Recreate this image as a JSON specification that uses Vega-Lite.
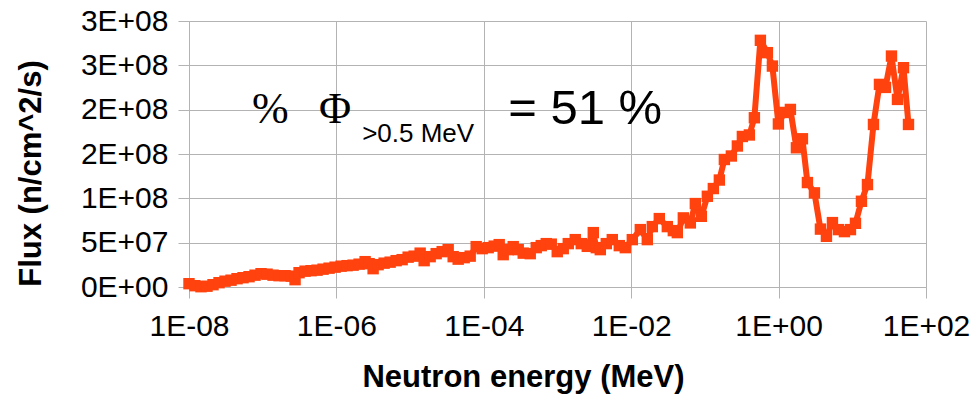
{
  "$schema": "https://vega.github.io/schema/vega-lite/v6.json",
  "width": 737,
  "height": 266,
  "autosize": {"type": "none"},
  "padding": {"left": 189, "top": 21, "right": 52, "bottom": 108},
  "background": "white",
  "config": {
    "view": {"stroke": null},
    "axis": {
      "gridColor": "#b3b3b3",
      "gridWidth": 1,
      "domainColor": "#b3b3b3",
      "tickColor": "#b3b3b3",
      "tickSize": 11,
      "labelFont": "Liberation Sans",
      "labelFontSize": 30,
      "labelColor": "#000000",
      "titleFont": "Liberation Sans",
      "titleFontSize": 31,
      "titleFontWeight": "bold",
      "titleColor": "#000000",
      "labelOverlap": false,
      "labelFlush": false
    }
  },
  "layer": [
    {
      "data": {
        "values": [
          {"E": 1.0e-8, "F": 3.73e6}, {"E": 1.206e-8, "F": 1.47e6}, {"E": 1.455e-8, "F": 3.4e5}, {"E": 1.755e-8, "F": 9.0e5},
          {"E": 2.118e-8, "F": 2.6e6}, {"E": 2.555e-8, "F": 4.86e6}, {"E": 3.083e-8, "F": 6.55e6}, {"E": 3.719e-8, "F": 7.68e6},
          {"E": 4.486e-8, "F": 9.37e6}, {"E": 5.412e-8, "F": 1.05e7}, {"E": 6.53e-8, "F": 1.163e7}, {"E": 7.874e-8, "F": 1.333e7},
          {"E": 9.497e-8, "F": 1.502e7}, {"E": 1.146e-7, "F": 1.446e7}, {"E": 1.382e-7, "F": 1.333e7}, {"E": 1.667e-7, "F": 1.276e7},
          {"E": 2.011e-7, "F": 1.276e7}, {"E": 2.426e-7, "F": 1.22e7}, {"E": 2.749e-7, "F": 8.25e6}, {"E": 3.115e-7, "F": 1.615e7},
          {"E": 3.758e-7, "F": 1.785e7}, {"E": 4.534e-7, "F": 1.841e7}, {"E": 5.47e-7, "F": 1.898e7}, {"E": 6.597e-7, "F": 2.01e7},
          {"E": 7.958e-7, "F": 2.123e7}, {"E": 9.603e-7, "F": 2.236e7}, {"E": 1.158e-6, "F": 2.349e7}, {"E": 1.397e-6, "F": 2.406e7},
          {"E": 1.686e-6, "F": 2.462e7}, {"E": 2.033e-6, "F": 2.575e7}, {"E": 2.453e-6, "F": 2.858e7}, {"E": 2.78e-6, "F": 2.632e7},
          {"E": 3.15e-6, "F": 2.067e7}, {"E": 3.683e-6, "F": 2.519e7}, {"E": 4.443e-6, "F": 2.688e7}, {"E": 5.359e-6, "F": 2.801e7},
          {"E": 6.466e-6, "F": 2.971e7}, {"E": 7.8e-6, "F": 3.084e7}, {"E": 9.408e-6, "F": 3.366e7}, {"E": 1.135e-5, "F": 3.479e7},
          {"E": 1.369e-5, "F": 3.818e7}, {"E": 1.551e-5, "F": 2.971e7}, {"E": 1.872e-5, "F": 3.422e7}, {"E": 2.258e-5, "F": 3.761e7},
          {"E": 2.724e-5, "F": 3.987e7}, {"E": 3.286e-5, "F": 4.213e7}, {"E": 3.842e-5, "F": 3.422e7}, {"E": 4.492e-5, "F": 3.14e7},
          {"E": 5.418e-5, "F": 3.309e7}, {"E": 6.536e-5, "F": 3.479e7}, {"E": 7.884e-5, "F": 4.552e7}, {"E": 9.513e-5, "F": 4.326e7},
          {"E": 1.147e-4, "F": 4.439e7}, {"E": 1.384e-4, "F": 4.608e7}, {"E": 1.618e-4, "F": 4.778e7}, {"E": 1.834e-4, "F": 3.648e7},
          {"E": 2.145e-4, "F": 4.213e7}, {"E": 2.507e-4, "F": 4.552e7}, {"E": 2.932e-4, "F": 4.213e7}, {"E": 3.428e-4, "F": 3.818e7},
          {"E": 4.266e-4, "F": 3.761e7}, {"E": 5.146e-4, "F": 4.439e7}, {"E": 6.017e-4, "F": 4.665e7}, {"E": 7.036e-4, "F": 4.891e7},
          {"E": 8.228e-4, "F": 4.834e7}, {"E": 9.922e-4, "F": 3.987e7}, {"E": 1.197e-3, "F": 4.326e7}, {"E": 1.4e-3, "F": 4.891e7},
          {"E": 1.742e-3, "F": 5.343e7}, {"E": 2.102e-3, "F": 4.891e7}, {"E": 2.535e-3, "F": 4.586e7}, {"E": 3.058e-3, "F": 6.133e7},
          {"E": 3.358e-3, "F": 4.439e7}, {"E": 3.805e-3, "F": 4.213e7}, {"E": 4.59e-3, "F": 4.891e7}, {"E": 5.538e-3, "F": 5.343e7},
          {"E": 6.893e-3, "F": 4.665e7}, {"E": 8.316e-3, "F": 4.439e7}, {"E": 1.035e-2, "F": 5.343e7}, {"E": 1.329e-2, "F": 6.472e7},
          {"E": 1.654e-2, "F": 5.343e7}, {"E": 1.934e-2, "F": 6.811e7}, {"E": 2.406e-2, "F": 7.715e7}, {"E": 3.092e-2, "F": 6.811e7},
          {"E": 3.729e-2, "F": 6.359e7}, {"E": 4.225e-2, "F": 6.133e7}, {"E": 5.097e-2, "F": 7.794e7}, {"E": 6.344e-2, "F": 7.229e7},
          {"E": 7.419e-2, "F": 9.409e7}, {"E": 8.951e-2, "F": 7.974e7}, {"E": 0.108, "F": 1.0233e8}, {"E": 0.1302, "F": 1.1103e8},
          {"E": 0.1571, "F": 1.2063e8}, {"E": 0.1837, "F": 1.4379e8}, {"E": 0.2286, "F": 1.4774e8}, {"E": 0.2758, "F": 1.5903e8},
          {"E": 0.3225, "F": 1.6976e8}, {"E": 0.4013, "F": 1.7146e8}, {"E": 0.4693, "F": 1.9089e8}, {"E": 0.5661, "F": 2.782e8},
          {"E": 0.7047, "F": 2.643e8}, {"E": 0.8237, "F": 2.4917e8}, {"E": 0.9938, "F": 1.8388e8}, {"E": 1.199, "F": 1.9687e8},
          {"E": 1.446, "F": 2.0026e8}, {"E": 1.745, "F": 1.57e8}, {"E": 2.105, "F": 1.6717e8}, {"E": 2.461, "F": 1.178e8},
          {"E": 3.063, "F": 1.0617e8}, {"E": 3.695, "F": 6.529e7}, {"E": 4.457, "F": 5.715e7}, {"E": 5.377, "F": 7.263e7},
          {"E": 6.486, "F": 6.472e7}, {"E": 7.824, "F": 6.246e7}, {"E": 9.439, "F": 6.472e7}, {"E": 11.04, "F": 7.184e7},
          {"E": 13.31, "F": 9.669e7}, {"E": 16.06, "F": 1.1555e8}, {"E": 19.38, "F": 1.8332e8}, {"E": 23.37, "F": 2.285e8},
          {"E": 28.19, "F": 2.251e8}, {"E": 34.01, "F": 2.6046e8}, {"E": 41.03, "F": 2.1156e8}, {"E": 49.49, "F": 2.4736e8},
          {"E": 57.87, "F": 1.8332e8}
        ]
      },
      "mark": {
        "type": "line",
        "color": "#FF420E",
        "strokeWidth": 6,
        "strokeJoin": "round",
        "point": {"shape": "square", "size": 130, "filled": true, "color": "#FF420E", "opacity": 1}
      },
      "encoding": {
        "x": {
          "field": "E",
          "type": "quantitative",
          "scale": {"type": "log", "domain": [1e-8, 100], "nice": false},
          "axis": {
            "values": [1e-8, 1e-6, 1e-4, 1e-2, 1, 100],
            "labelExpr": "['1E-08','1E-06','1E-04','1E-02','1E+00','1E+02'][round((log(datum.value)/log(10)+8)/2)]",
            "labelPadding": 13,
            "title": "Neutron energy (MeV)",
            "titleX": 334,
            "titleY": 99.4,
            "titleAlign": "center",
            "titleBaseline": "alphabetic"
          }
        },
        "y": {
          "field": "F",
          "type": "quantitative",
          "scale": {"domain": [0, 300000000], "nice": false},
          "axis": {
            "values": [0, 50000000, 100000000, 150000000, 200000000, 250000000, 300000000],
            "labelExpr": "['0E+00','5E+07','1E+08','2E+08','2E+08','3E+08','3E+08'][round(datum.value/50000000)]",
            "labelPadding": 10,
            "title": "Flux (n/cm^2/s)",
            "titleX": -149,
            "titleY": 152,
            "titleAngle": -90,
            "titleAlign": "center",
            "titleBaseline": "alphabetic"
          }
        }
      }
    },
    {
      "data": {"values": [{}]},
      "mark": {"type": "text", "text": "%", "font": "Liberation Serif", "fontSize": 44, "align": "left", "baseline": "alphabetic", "color": "#000000"},
      "encoding": {"x": {"datum": 7.166e-8, "type": "quantitative"}, "y": {"datum": 184450000, "type": "quantitative"}}
    },
    {
      "data": {"values": [{}]},
      "mark": {"type": "text", "text": "Φ", "font": "Liberation Serif", "fontSize": 44, "align": "left", "baseline": "alphabetic", "color": "#000000"},
      "encoding": {"x": {"datum": 5.823e-7, "type": "quantitative"}, "y": {"datum": 184450000, "type": "quantitative"}}
    },
    {
      "data": {"values": [{}]},
      "mark": {"type": "text", "text": ">0.5 MeV", "font": "Liberation Sans", "fontSize": 26, "align": "left", "baseline": "alphabetic", "color": "#000000"},
      "encoding": {"x": {"datum": 2.234e-6, "type": "quantitative"}, "y": {"datum": 163000000, "type": "quantitative"}}
    },
    {
      "data": {"values": [{}]},
      "mark": {"type": "text", "text": "= 51 %", "font": "Liberation Sans", "fontSize": 49, "align": "left", "baseline": "alphabetic", "color": "#000000"},
      "encoding": {"x": {"datum": 2.145e-4, "type": "quantitative"}, "y": {"datum": 183300000, "type": "quantitative"}}
    }
  ]
}
